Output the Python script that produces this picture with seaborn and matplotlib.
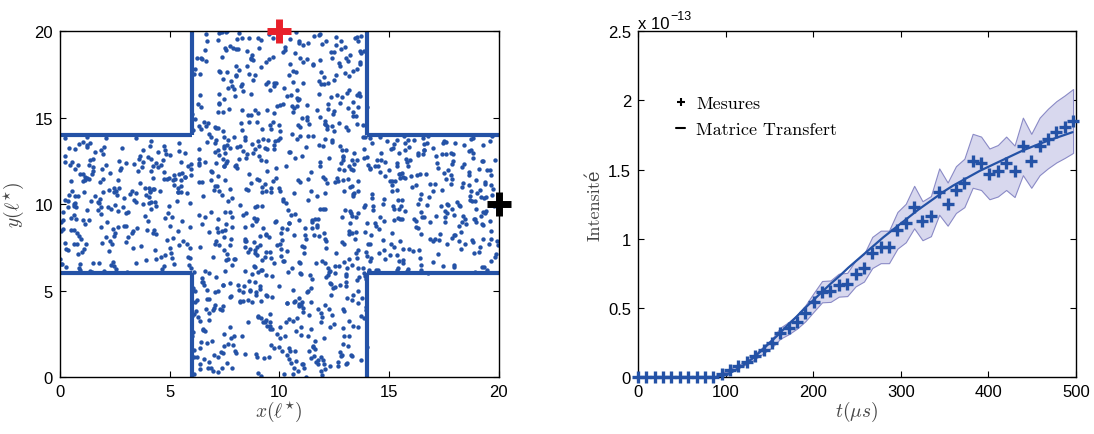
import numpy as np
import pandas as pd
import matplotlib
matplotlib.use("Agg")
import matplotlib.pyplot as plt
from matplotlib.lines import Line2D
import seaborn as sns

# ---------------------------------------------------------------- data
# right panel: measured intensity (units of 1e-13) at the sampling times
t_mes = [0.0, 9.6, 19.1, 28.7, 38.2, 47.8, 57.3, 66.9, 76.4, 86.0,
         95.5, 105.1, 114.6, 124.2, 133.7, 143.3, 152.8, 162.4, 171.9, 181.5,
         191.0, 200.6, 210.1, 219.7, 229.2, 238.8, 248.3, 257.9, 267.4, 277.0,
         286.5, 296.1, 305.6, 315.2, 324.7, 334.3, 343.8, 353.4, 362.9, 372.5,
         382.0, 391.6, 401.1, 410.7, 420.2, 429.8, 439.3, 448.9, 458.4, 468.0,
         477.5, 487.1, 496.6]
mesures = [0, 0, 0, 0, 0, 0, 0, 0, 0, 0,
           0.024, 0.053, 0.077, 0.106, 0.149, 0.197, 0.245, 0.317, 0.353, 0.400,
           0.460, 0.540, 0.617, 0.620, 0.664, 0.669, 0.748, 0.789, 0.900, 0.940,
           0.940, 1.060, 1.113, 1.228, 1.130, 1.163, 1.340, 1.250, 1.355, 1.403,
           1.563, 1.545, 1.468, 1.491, 1.545, 1.487, 1.667, 1.563, 1.667, 1.724,
           1.772, 1.810, 1.851]
bande_bas = [0, 0, 0, 0, 0, 0, 0, 0, 0, 0,
             0.021, 0.046, 0.067, 0.093, 0.130, 0.172, 0.214, 0.277, 0.309, 0.350,
             0.403, 0.473, 0.540, 0.543, 0.581, 0.585, 0.655, 0.690, 0.788, 0.823,
             0.823, 0.928, 0.974, 1.075, 0.989, 1.018, 1.173, 1.094, 1.186, 1.228,
             1.368, 1.352, 1.285, 1.305, 1.352, 1.301, 1.459, 1.368, 1.459, 1.509,
             1.551, 1.584, 1.620]
bande_haut = [0, 0, 0, 0, 0, 0, 0, 0, 0, 0,
              0.027, 0.060, 0.087, 0.119, 0.168, 0.222, 0.276, 0.357, 0.397, 0.450,
              0.518, 0.608, 0.694, 0.698, 0.747, 0.753, 0.842, 0.888, 1.013, 1.058,
              1.058, 1.193, 1.252, 1.382, 1.271, 1.308, 1.508, 1.406, 1.524, 1.578,
              1.758, 1.738, 1.652, 1.677, 1.738, 1.673, 1.875, 1.758, 1.875, 1.940,
              1.994, 2.036, 2.082]

# transfer-matrix model curve
t_model = [0, 90, 95, 100, 110, 120, 130, 140, 150, 160, 170, 180, 190, 200,
           210, 220, 230, 240, 250, 260, 270, 280, 290, 300, 310, 320, 330,
           340, 350, 360, 370, 380, 390, 400, 420, 440, 460, 480, 496]
i_model = [0, 0, 0.005, 0.015, 0.045, 0.085, 0.130, 0.185, 0.245, 0.305, 0.370,
           0.430, 0.495, 0.555, 0.615, 0.675, 0.730, 0.790, 0.845, 0.900, 0.955,
           1.010, 1.060, 1.110, 1.160, 1.210, 1.255, 1.300, 1.345, 1.385, 1.420,
           1.455, 1.490, 1.520, 1.580, 1.640, 1.690, 1.735, 1.770]

# left panel: cross-shaped medium (walls), source and detector
walls = [([6, 6], [0, 6]), ([14, 14], [0, 6]), ([6, 6], [14, 20]), ([14, 14], [14, 20]),
         ([0, 6], [6, 6]), ([0, 6], [14, 14]), ([14, 20], [6, 6]), ([14, 20], [14, 14])]
source = (10, 20)
detector = (20, 10)
n_scatterers = 1300
# NOTE: the individual scatterer positions cannot be read off the picture;
# they are a seeded uniform draw inside the cross, only a stand-in texture.
rng = np.random.default_rng(3)
pts = []
while len(pts) < n_scatterers:
    x, y = rng.uniform(0, 20, 2)
    if 6 <= x <= 14 or 6 <= y <= 14:
        pts.append((x, y))
scat = pd.DataFrame(pts, columns=["x", "y"])

# ---------------------------------------------------------------- style
sns.set_style("white")
plt.rcParams["font.family"] = ["Liberation Sans", "DejaVu Sans"]
plt.rcParams["mathtext.fontset"] = "cm"
plt.rcParams["font.size"] = 12
plt.rcParams["text.color"] = "black"

blue = "#2452a6"
serif = ["cmr10", "DejaVu Serif"]

fig = plt.figure(figsize=(10.94, 4.35), dpi=100)
ax1 = fig.add_axes([0.0548, 0.131, 0.401, 0.795])
ax2 = fig.add_axes([0.5832, 0.131, 0.4004, 0.795])

for ax in (ax1, ax2):
    ax.tick_params(direction="in", bottom=True, left=True, top=True, right=True,
                   length=4, width=0.8, colors="black", labelsize=12, pad=5)
    for s in ax.spines.values():
        s.set_linewidth(1.0)
        s.set_color("black")

# ---------------------------------------------------------------- left
sns.scatterplot(data=scat, x="x", y="y", ax=ax1, s=10, color=blue, linewidth=0)
for xs, ys in walls:
    ax1.plot(xs, ys, color=blue, lw=3, solid_capstyle="butt")
ax1.plot(*source, marker="+", color="#e8202a", ms=17, mew=5, clip_on=False, zorder=5)
ax1.plot(*detector, marker="+", color="black", ms=17, mew=5, clip_on=False, zorder=5)
ax1.set_xlim(0, 20)
ax1.set_ylim(0, 20)
ax1.set_xticks([0, 5, 10, 15, 20])
ax1.set_yticks([0, 5, 10, 15, 20])
ax1.set_xlabel(r"$x(\ell^{\star})$", fontsize=14, color="#444444", labelpad=0)
ax1.set_ylabel(r"$y(\ell^{\star})$", fontsize=14, color="#444444", labelpad=6)

# ---------------------------------------------------------------- right
ax2.fill_between(t_mes, bande_bas, bande_haut, facecolor="#d8d8ee",
                 edgecolor="#8a8ac6", lw=0.8, zorder=1)
sns.lineplot(x=t_model, y=i_model, ax=ax2, color=blue, lw=1.6, zorder=3)
sns.scatterplot(x=t_mes, y=mesures, ax=ax2, marker="+", s=75, color=blue,
                linewidth=2.4, zorder=4, clip_on=False)
ax2.set_xlim(0, 500)
ax2.set_ylim(0, 2.5)
ax2.set_xticks([0, 100, 200, 300, 400, 500])
ax2.set_yticks([0, 0.5, 1, 1.5, 2, 2.5])
ax2.set_yticklabels(["0", "0.5", "1", "1.5", "2", "2.5"])
ax2.set_xlabel(r"$t(\mu s)$", fontsize=14, color="#444444", labelpad=0)
ax2.set_ylabel("Intensité", family=serif, fontsize=13, color="#444444", labelpad=4)
ax2.text(0.0, 1.008, "x 10", transform=ax2.transAxes, fontsize=12, va="baseline")
ax2.text(0.073, 1.036, "\u221213", transform=ax2.transAxes, fontsize=9, va="baseline")

handles = [Line2D([], [], marker="+", ls="none", color="black", ms=6, mew=1.5),
           Line2D([], [], ls="-", color="black", lw=1.5)]
ax2.legend(handles, ["Mesures", "Matrice Transfert"], loc="upper left",
           bbox_to_anchor=(0.05, 0.86), frameon=False, handlelength=0.5,
           handletextpad=0.6, labelspacing=0.55, prop={"family": serif, "size": 13})

fig.savefig("out.png", dpi=100)
